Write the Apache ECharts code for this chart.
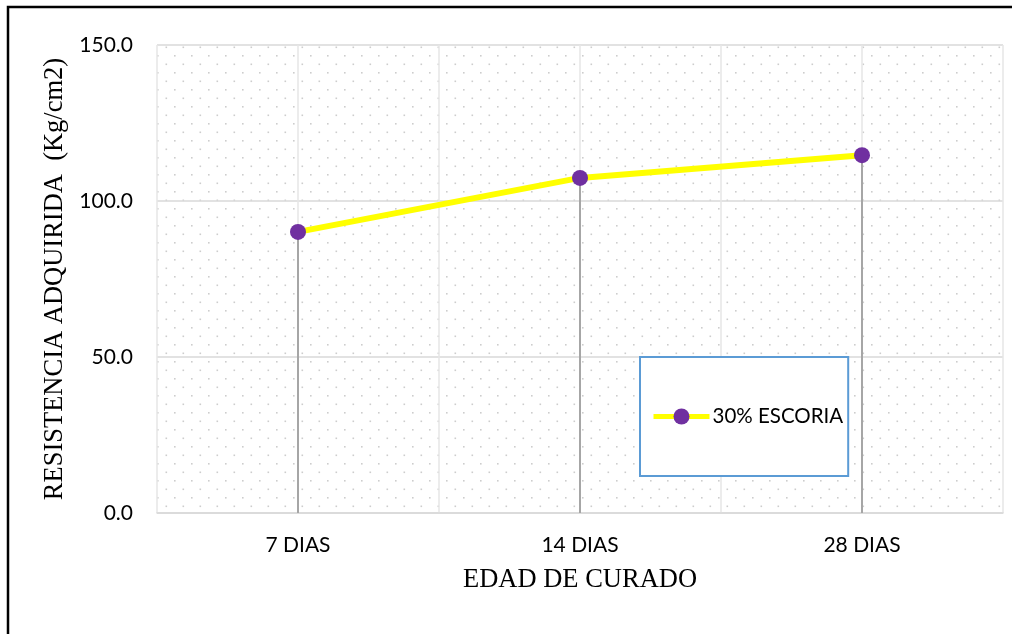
<!DOCTYPE html>
<html>
<head>
<meta charset="utf-8">
<script src="https://cdn.jsdelivr.net/npm/echarts@6/dist/echarts.min.js"></script>
<style>
  html, body { margin: 0; padding: 0; background: #ffffff; }
  #chart { width: 1012px; height: 634px; }
</style>
</head>
<body>
<div id="chart"></div>
<script>
// Compressive strength gained by curing age
const categories = ['7 DIAS', '14 DIAS', '28 DIAS'];
const resistencia = [90.1, 107.4, 114.7];
const yTicks = [0, 50, 100, 150];
const seriesName = '30% ESCORIA';

// Dotted fill for the plot area
function dotPattern() {
  const c = document.createElement('canvas');
  c.width = 17; c.height = 17;
  const ctx = c.getContext('2d');
  ctx.fillStyle = '#cdcdcd';
  ctx.fillRect(4, 4, 1.6, 1.6);
  ctx.fillRect(12.5, 12.5, 1.6, 1.6);
  return c;
}

const chart = echarts.init(document.getElementById('chart'));
const labelFont = 'Lato';
const nameFont = '"Liberation Serif", "Times New Roman", serif';

chart.setOption({
  animation: false,
  backgroundColor: '#ffffff',
  graphic: [{
    type: 'rect',
    shape: { x: 8, y: 7, width: 1020, height: 650 },
    style: { fill: 'none', stroke: '#000000', lineWidth: 2.5 },
    silent: true,
    z: 100
  }],
  grid: {
    left: 157, right: 9, top: 45, bottom: 121,
    show: true,
    borderWidth: 0,
    backgroundColor: { image: dotPattern(), repeat: 'repeat' }
  },
  legend: {
    data: [seriesName],
    left: 640, top: 357,
    orient: 'vertical',
    backgroundColor: '#ffffff',
    borderColor: '#5b9bd5',
    borderWidth: 2,
    borderRadius: 0,
    padding: [49, 5, 49, 11],
    itemWidth: 56,
    itemHeight: 20,
    itemGap: 0,
    lineStyle: { width: 5, color: '#ffff00' },
    textStyle: { fontFamily: labelFont, fontSize: 20.5, color: '#000000', padding: [0, 0, 0, -2] }
  },
  xAxis: [{
    type: 'category',
    data: categories,
    boundaryGap: true,
    axisLine: { show: true, lineStyle: { color: '#d9d9d9', width: 1.5 } },
    axisTick: { show: false },
    splitLine: { show: false },
    axisLabel: { fontFamily: labelFont, fontSize: 21, color: '#000000', margin: 22 },
    name: 'EDAD DE CURADO',
    nameLocation: 'middle',
    nameGap: 54,
    nameTextStyle: { fontFamily: nameFont, fontSize: 26.5, color: '#000000' }
  }, {
    // half-band guide lines across the plot
    type: 'value',
    min: 0, max: categories.length * 2, interval: 1,
    show: true,
    position: 'bottom',
    axisLine: { show: false },
    axisTick: { show: false },
    axisLabel: { show: false },
    splitLine: { show: true, lineStyle: { color: '#e6e6e6', width: 1.5 } }
  }],
  yAxis: {
    type: 'value',
    min: yTicks[0], max: yTicks[yTicks.length - 1], interval: yTicks[1] - yTicks[0],
    axisLine: { show: false },
    axisTick: { show: false },
    splitLine: { show: true, lineStyle: { color: '#d9d9d9', width: 1.5 } },
    axisLabel: {
      fontFamily: labelFont, fontSize: 21, color: '#000000', margin: 24,
      formatter: v => v.toFixed(1)
    },
    name: 'RESISTENCIA ADQUIRIDA  (Kg/cm2)',
    nameLocation: 'middle',
    nameGap: 79,
    nameTextStyle: { fontFamily: nameFont, fontSize: 26.5, color: '#000000' }
  },
  series: [{
    // drop lines from each point to the axis
    name: 'drop',
    type: 'bar',
    xAxisIndex: 0,
    data: resistencia,
    barWidth: 2,
    itemStyle: { color: '#a6a6a6' },
    silent: true,
    z: 2
  }, {
    name: seriesName,
    type: 'line',
    xAxisIndex: 0,
    data: resistencia,
    symbol: 'circle',
    symbolSize: 16,
    lineStyle: { color: '#ffff00', width: 6 },
    itemStyle: { color: '#7030a0' },
    z: 3
  }]
});
</script>
</body>
</html>
